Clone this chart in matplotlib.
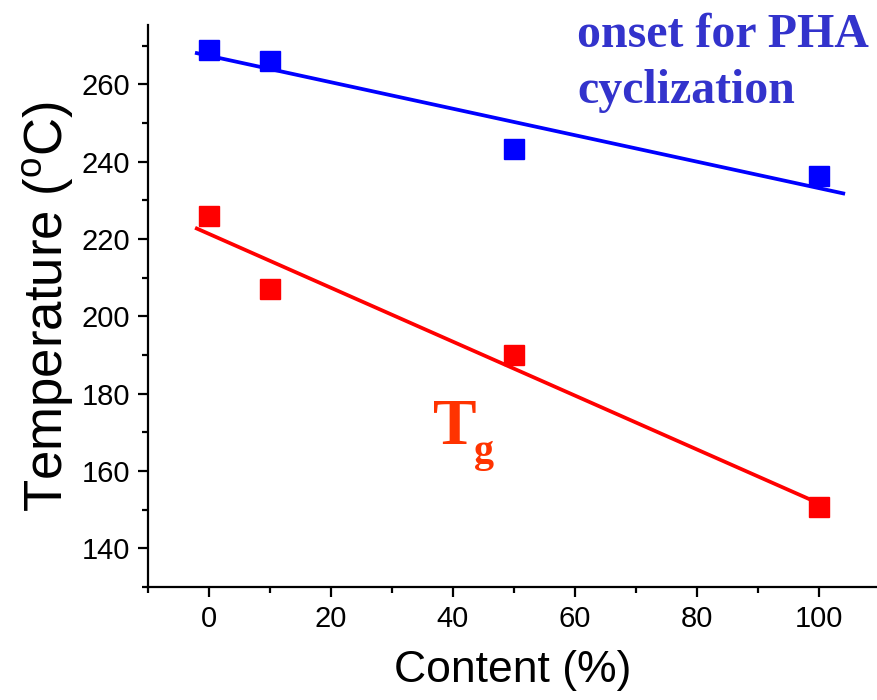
import numpy as np
import matplotlib.pyplot as plt

# data
content = [0, 10, 50, 100]
onset = [269.0, 266.0, 243.4, 236.4]   # onset for PHA cyclization
tg = [226.0, 207.2, 190.0, 150.6]      # Tg

x_ticks = [0, 20, 40, 60, 80, 100]
y_ticks = [140, 160, 180, 200, 220, 240, 260]

plt.rcParams['font.family'] = ['Liberation Sans', 'DejaVu Sans']

fig = plt.figure(figsize=(8.78, 7.0), dpi=100)
ax = fig.add_axes([0.1686, 0.1614, 0.8314, 0.8026])

# linear fits
p_on = np.polyfit(content, onset, 1)
p_tg = np.polyfit(content, tg, 1)
xf_on = np.array([-2, 104])
xf_tg = np.array([-2, 100])
ax.plot(xf_on, np.polyval(p_on, xf_on), color='#0000ff', lw=2.7, zorder=2)
ax.plot(xf_tg, np.polyval(p_tg, xf_tg), color='#ff0000', lw=2.7, zorder=2)

ax.plot(content, onset, 's', color='#0000ff', ms=15, zorder=3)
ax.plot(content, tg, 's', color='#ff0000', ms=15, zorder=3)

ax.set_xlim(-10, 109.7)
ax.set_ylim(130, 275.3)
ax.set_xticks(x_ticks)
ax.set_yticks(y_ticks)
ax.set_xticks(np.arange(-10, 110, 10), minor=True)
ax.set_yticks(np.arange(130, 275, 10), minor=True)

for s in ['top', 'right']:
    ax.spines[s].set_visible(False)
for s in ['left', 'bottom']:
    ax.spines[s].set_linewidth(1.6)

ax.tick_params(which='major', direction='out', length=7, width=1.6, labelsize=21, pad=6)
ax.tick_params(which='minor', direction='out', length=4.5, width=1.6)

ax.set_xlabel('Content (%)', fontsize=32, labelpad=12)
ax.set_ylabel(r'Temperature ($^{\mathregular{o}}$C)', fontsize=38, labelpad=4)

ax.text(0.588, 1.022, 'onset for PHA\ncyclization', transform=ax.transAxes,
        family='Liberation Serif', fontweight='bold', fontsize=34.5,
        color='#3333cc', ha='left', va='top', linespacing=1.37)

ax.text(0.391, 0.254, 'T', transform=ax.transAxes, family='Liberation Serif',
        fontweight='bold', fontsize=47, color='#ff3300', ha='left', va='baseline')
ax.text(0.447, 0.222, 'g', transform=ax.transAxes, family='Liberation Serif',
        fontweight='bold', fontsize=29, color='#ff3300', ha='left', va='baseline')

fig.savefig('out.png', dpi=100)
